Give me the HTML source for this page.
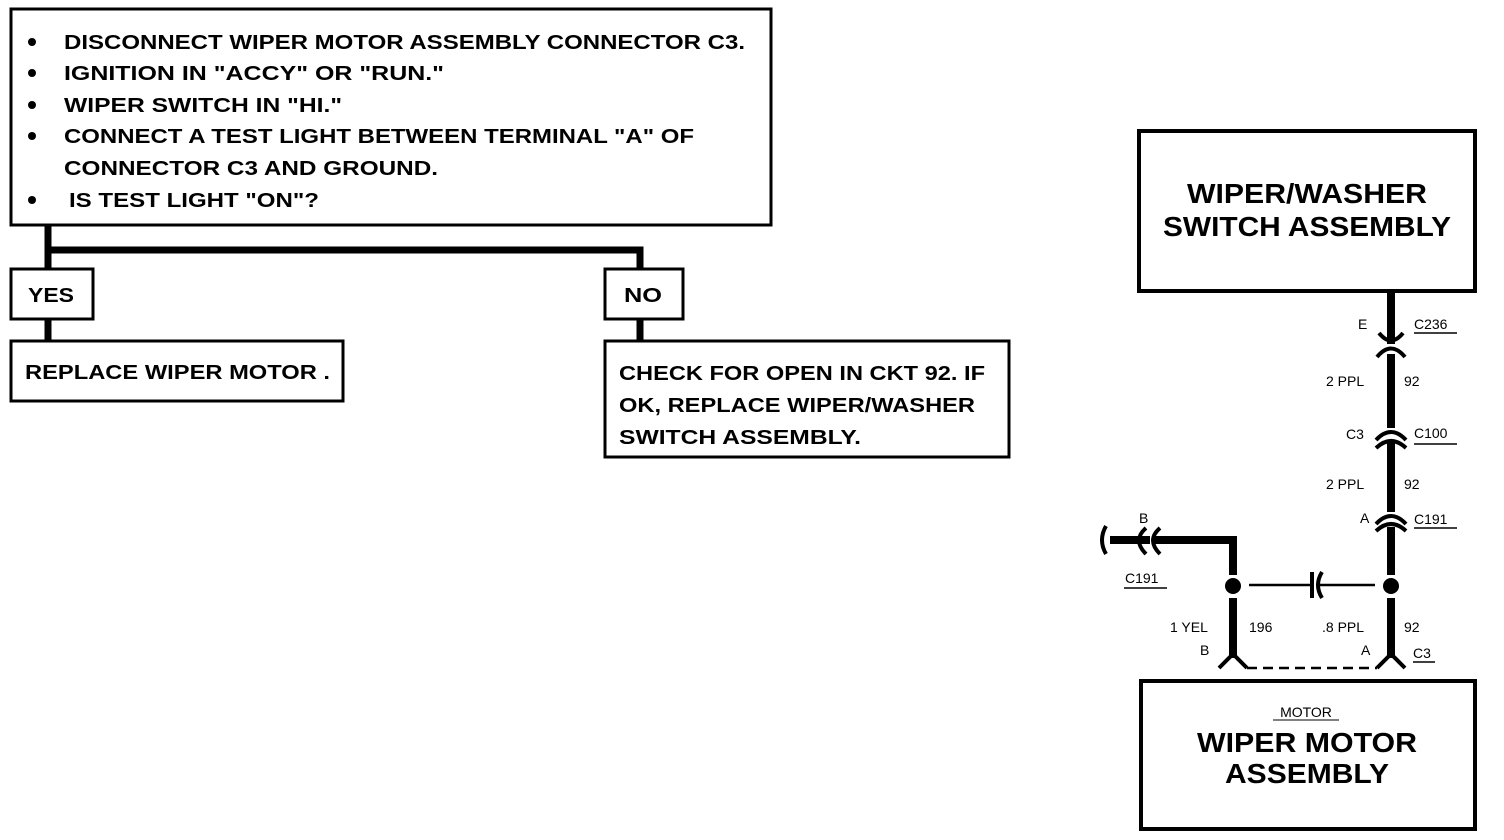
<!DOCTYPE html>
<html><head><meta charset="utf-8"><style>
html,body{margin:0;padding:0;background:#fff;}
svg{display:block}
text{font-family:"Liberation Sans",sans-serif;font-weight:bold;fill:#000}
text.s,.s text{font-weight:normal;font-size:14px}
</style></head><body>
<svg width="1504" height="840" viewBox="0 0 1504 840" xmlns="http://www.w3.org/2000/svg">
<g fill="none" stroke="#000" stroke-width="3">
<rect x="11" y="9" width="760" height="216"/>
<rect x="11" y="269" width="82" height="50"/>
<rect x="605" y="269" width="78" height="50"/>
<rect x="11" y="341" width="332" height="60"/>
<rect x="605" y="341" width="404" height="116"/>
<rect x="1139" y="131" width="336" height="160" stroke-width="4"/>
<rect x="1141" y="681" width="334" height="148" stroke-width="4"/>
</g>
<g stroke="#000" stroke-width="7" fill="none">
<path d="M48 226V268M48 250H640V268M48 320V340M640 320V340"/>
</g>
<g font-size="20">
<circle cx="32" cy="42" r="4"/><text x="64" y="49" textLength="681" lengthAdjust="spacingAndGlyphs">DISCONNECT WIPER MOTOR ASSEMBLY CONNECTOR C3.</text>
<circle cx="32" cy="73" r="4"/><text x="64" y="80" textLength="380" lengthAdjust="spacingAndGlyphs">IGNITION IN "ACCY" OR "RUN."</text>
<circle cx="32" cy="105" r="4"/><text x="64" y="112" textLength="278" lengthAdjust="spacingAndGlyphs">WIPER SWITCH IN "HI."</text>
<circle cx="32" cy="136" r="4"/><text x="64" y="143" textLength="630" lengthAdjust="spacingAndGlyphs">CONNECT A TEST LIGHT BETWEEN TERMINAL "A" OF</text>
<text x="64" y="175" textLength="374" lengthAdjust="spacingAndGlyphs">CONNECTOR C3 AND GROUND.</text>
<circle cx="32" cy="200" r="4"/><text x="69" y="207" textLength="250" lengthAdjust="spacingAndGlyphs">IS TEST LIGHT "ON"?</text>
<text x="28" y="302" textLength="46" lengthAdjust="spacingAndGlyphs">YES</text>
<text x="624" y="302" textLength="38" lengthAdjust="spacingAndGlyphs">NO</text>
<text x="25" y="379" textLength="305" lengthAdjust="spacingAndGlyphs">REPLACE WIPER MOTOR .</text>
<text x="619" y="380" textLength="366" lengthAdjust="spacingAndGlyphs">CHECK FOR OPEN IN CKT 92.  IF</text>
<text x="619" y="412" textLength="356" lengthAdjust="spacingAndGlyphs">OK, REPLACE WIPER/WASHER</text>
<text x="619" y="444" textLength="242" lengthAdjust="spacingAndGlyphs">SWITCH ASSEMBLY.</text>
</g>
<g font-size="28" text-anchor="middle">
<text x="1307" y="203" textLength="240" lengthAdjust="spacingAndGlyphs">WIPER/WASHER</text>
<text x="1307" y="236" textLength="288" lengthAdjust="spacingAndGlyphs">SWITCH ASSEMBLY</text>
<text x="1307" y="752" textLength="220" lengthAdjust="spacingAndGlyphs">WIPER MOTOR</text>
<text x="1307" y="783" textLength="164" lengthAdjust="spacingAndGlyphs">ASSEMBLY</text>
</g>
<text class="s" x="1306" y="717" text-anchor="middle" font-size="13">MOTOR</text>
<line x1="1273" y1="720" x2="1339" y2="720" stroke="#000" stroke-width="1"/>
<g stroke="#000" stroke-width="8" fill="none">
<path d="M1391 292V344"/>
<path d="M1391 354V428"/>
<path d="M1391 442V512"/>
<path d="M1391 527V575"/>
<path d="M1391 598V658"/>
<path d="M1233 575V540H1155"/>
<path d="M1233 598V658"/>
<path d="M1150 540H1110"/>
</g>
<g stroke="#000" stroke-width="4" fill="none">
<path d="M1379 333Q1391 348 1403 333"/>
<path d="M1377 357Q1391 340 1405 357"/>
<path d="M1376 440Q1391 424 1406 440"/>
<path d="M1376 448Q1391 434 1406 448"/>
<path d="M1376 524Q1391 508 1406 524"/>
<path d="M1376 531Q1391 517 1406 531"/>
<path d="M1160 528Q1146 540 1160 554"/>
<path d="M1146 528Q1132 540 1146 554"/>
<path d="M1106 526Q1098 540 1106 554"/>
<path d="M1219 668L1233 654L1247 668"/>
<path d="M1377 668L1391 654L1405 668"/>
<path d="M1312 572V598M1322 572Q1314 585 1322 598"/>
</g>
<g stroke="#000" stroke-width="2.5">
<line x1="1249" y1="585" x2="1312" y2="585"/>
<line x1="1318" y1="585" x2="1375" y2="585"/>
<line x1="1247" y1="668" x2="1377" y2="668" stroke-dasharray="10,6"/>
</g>
<circle cx="1233" cy="586" r="8"/>
<circle cx="1391" cy="586" r="8"/>
<g class="s">
<text x="1358" y="329">E</text>
<text x="1414" y="329">C236</text>
<text x="1326" y="386">2 PPL</text>
<text x="1404" y="386">92</text>
<text x="1346" y="439">C3</text>
<text x="1414" y="438">C100</text>
<text x="1326" y="489">2 PPL</text>
<text x="1404" y="489">92</text>
<text x="1360" y="523">A</text>
<text x="1414" y="524">C191</text>
<text x="1139" y="523">B</text>
<text x="1125" y="583">C191</text>
<text x="1170" y="632">1 YEL</text>
<text x="1249" y="632">196</text>
<text x="1322" y="632">.8 PPL</text>
<text x="1404" y="632">92</text>
<text x="1200" y="655">B</text>
<text x="1361" y="655">A</text>
<text x="1413" y="658">C3</text>
</g>
<g stroke="#000" stroke-width="1.5">
<line x1="1414" y1="333" x2="1457" y2="333"/>
<line x1="1414" y1="444" x2="1457" y2="444"/>
<line x1="1414" y1="528" x2="1457" y2="528"/>
<line x1="1124" y1="588" x2="1167" y2="588"/>
<line x1="1413" y1="662" x2="1435" y2="662"/>
</g>
</svg>
</body></html>
